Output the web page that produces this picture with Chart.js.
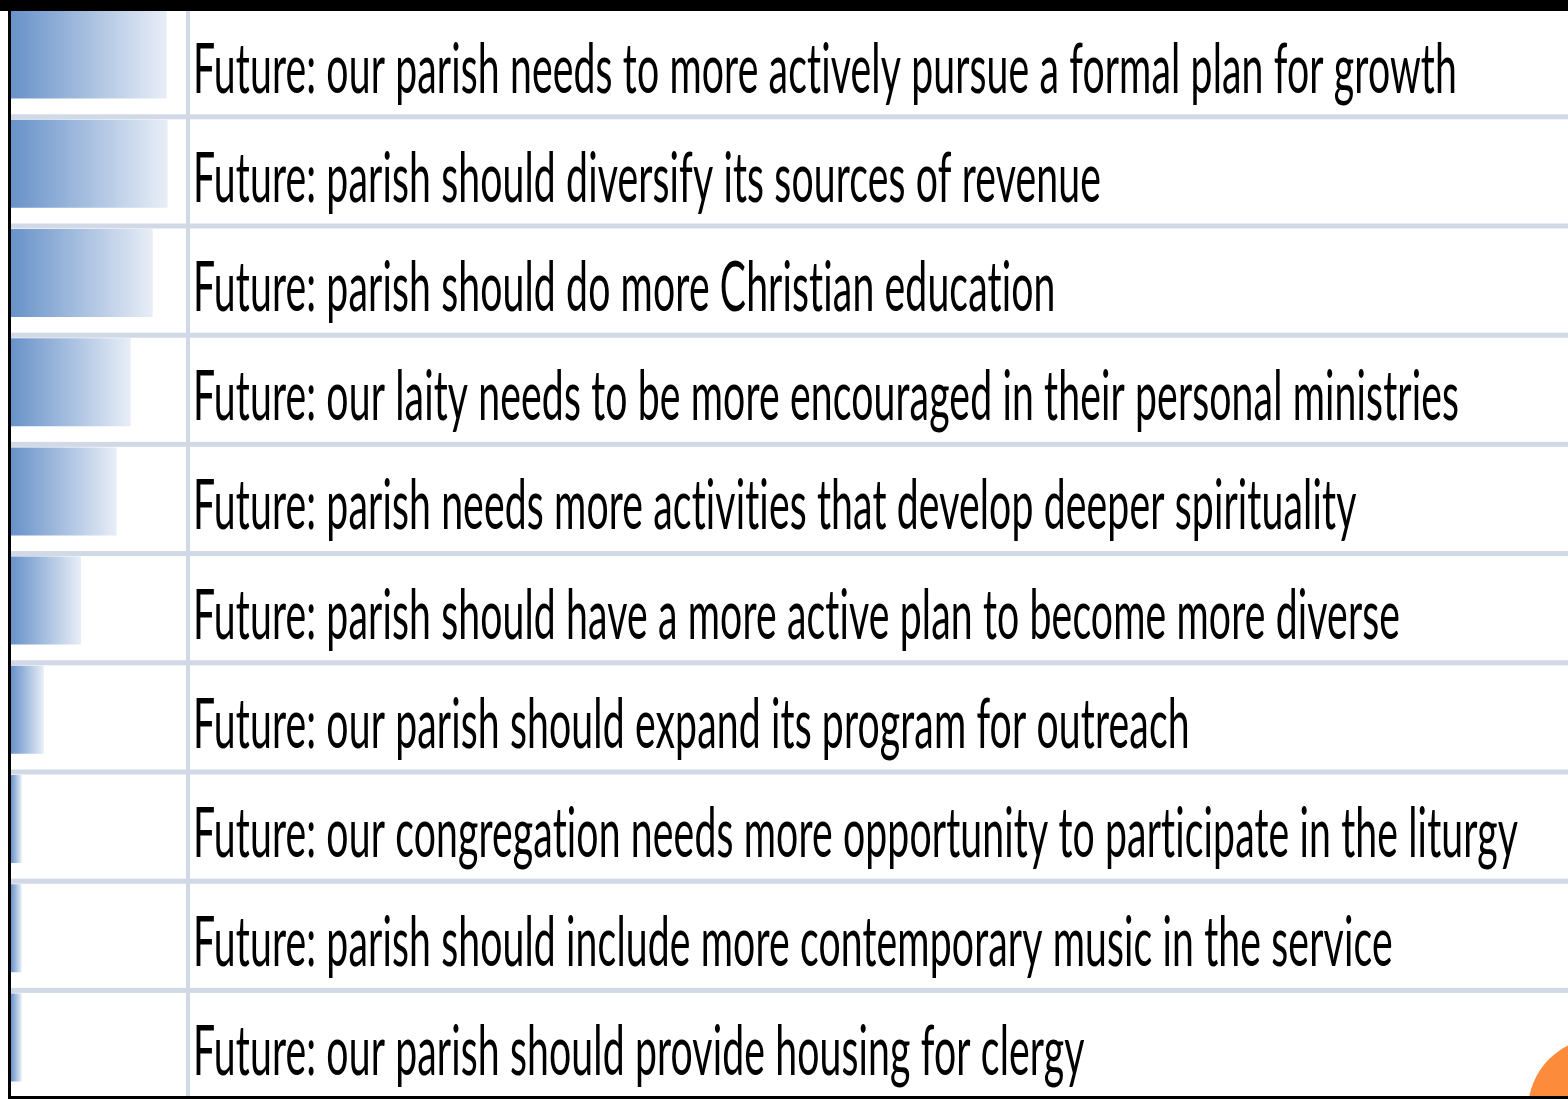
<!DOCTYPE html>
<html>
<head>
<meta charset="utf-8">
<script src="https://cdn.jsdelivr.net/npm/chart.js@4.4.1/dist/chart.umd.min.js"></script>
<style>
  html, body { margin: 0; padding: 0; background: #ffffff; }
  #wrap { position: relative; width: 1568px; height: 1099px; }
</style>
</head>
<body>
<div id="wrap"><canvas id="futureChart"></canvas></div>
<script>
// survey statements, top to bottom
const categories = [
    'Future: our parish needs to more actively pursue a formal plan for growth',
    'Future: parish should diversify its sources of revenue',
    'Future: parish should do more Christian education',
    'Future: our laity needs to be more encouraged in their personal ministries',
    'Future: parish needs more activities that develop deeper spirituality',
    'Future: parish should have a more active plan to become more diverse',
    'Future: our parish should expand its program for outreach',
    'Future: our congregation needs more opportunity to participate in the liturgy',
    'Future: parish should include more contemporary music in the service',
    'Future: our parish should provide housing for clergy'
];

// share agreeing (%)
const agreeValues = [89, 89.5, 81, 68.4, 60.4, 40, 18.7, 6.1, 6.1, 6.1];

const xMin = 0;
const xMax = 100;

const LINE_COLOR = '#d0d9e5';
const LABEL_FONT = '70px Lato';
const LABEL_WIDTH = 1325; // longest statement spans this many px

function barGradient(context) {
    if (context.type !== 'data') return '#6892c9';
    const chart = context.chart;
    const x = chart.scales.x;
    if (!chart.chartArea || !x) return '#6892c9';
    const x0 = x.getPixelForValue(0);
    const x1 = x.getPixelForValue(context.raw);
    const g = chart.ctx.createLinearGradient(x0, 0, Math.max(x1, x0 + 1), 0);
    g.addColorStop(0, '#6892c9');
    g.addColorStop(1, '#e8eef7');
    return g;
}

const tablePlugin = {
    id: 'tableLayout',
    beforeDatasetsDraw(chart) {
        const { ctx } = chart;
        const meta = chart.getDatasetMeta(0);
        ctx.save();
        ctx.fillStyle = LINE_COLOR;
        meta.data.forEach((bar, i) => {
            if (i === 0) return;
            const top = bar.y - bar.height / 2;
            ctx.fillRect(11, top - 5.5, chart.width - 11, 5);
        });
        // column divider
        ctx.fillRect(chart.chartArea.right, 11, 4, chart.height - 14);
        ctx.restore();
    },
    afterDatasetsDraw(chart) {
        const { ctx } = chart;
        const meta = chart.getDatasetMeta(0);
        ctx.save();
        ctx.font = LABEL_FONT;
        // tiny spacing keeps Lato from merging "ti" into a ligature
        if ('letterSpacing' in ctx) ctx.letterSpacing = '0.2px';
        ctx.fillStyle = '#000000';
        ctx.textBaseline = 'alphabetic';
        ctx.textAlign = 'left';
        const widest = Math.max(...categories.map(c => ctx.measureText(c).width));
        const sx = LABEL_WIDTH / widest;
        const left = chart.chartArea.right + 7;
        meta.data.forEach((bar, i) => {
            ctx.save();
            ctx.translate(left, bar.y + 38);
            ctx.scale(sx, 1);
            ctx.fillText(categories[i], 0, 0);
            ctx.restore();
        });
        ctx.restore();
    },
    afterDraw(chart) {
        const { ctx, width, height } = chart;
        ctx.save();
        // orange slide marker
        ctx.fillStyle = '#fd8b3c';
        ctx.beginPath();
        ctx.arc(1600, 1110, 72, 0, Math.PI * 2);
        ctx.fill();
        // black frame
        ctx.fillStyle = '#000000';
        ctx.fillRect(0, 0, width, 11);
        ctx.fillRect(8, 0, 3, height);
        ctx.fillRect(8, height - 3, width - 8, 3);
        ctx.restore();
    }
};

const ctx = document.getElementById('futureChart').getContext('2d');

new Chart(ctx, {
    type: 'bar',
    data: {
        labels: categories,
        datasets: [{
            label: 'Agree (%)',
            data: agreeValues,
            backgroundColor: barGradient,
            borderWidth: 0,
            barPercentage: 0.806,
            categoryPercentage: 1
        }]
    },
    options: {
        indexAxis: 'y',
        responsive: true,
        maintainAspectRatio: false,
        animation: false,
        layout: {
            padding: {
                left: 11,
                right: 1382,
                top: 0,
                bottom: 7
            }
        },
        plugins: {
            legend: {
                display: false
            },
            tooltip: {
                enabled: false
            }
        },
        scales: {
            x: {
                display: false,
                min: xMin,
                max: xMax
            },
            y: {
                display: false
            }
        }
    },
    plugins: [tablePlugin]
});
</script>
</body>
</html>
